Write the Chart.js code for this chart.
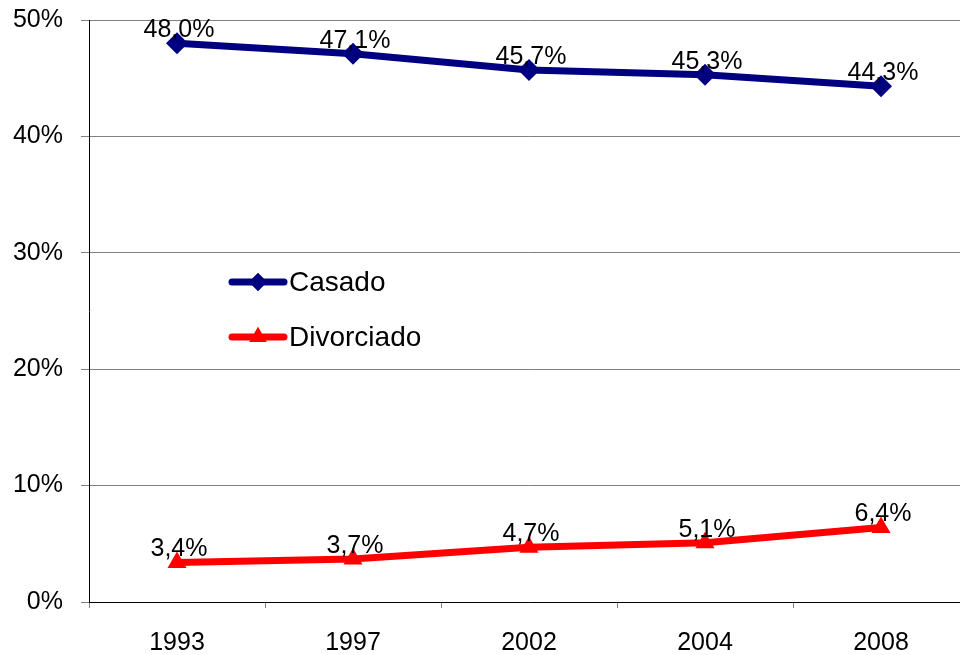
<!DOCTYPE html>
<html><head><meta charset="utf-8">
<script src="https://cdn.jsdelivr.net/npm/chart.js@4/dist/chart.umd.min.js"></script>
<style>
html,body{margin:0;padding:0;overflow:hidden;background:#fff;}
#wrap{width:980px;height:655px;position:relative;}
</style></head><body>
<div id="wrap"><canvas id="c"></canvas></div>
<script>
const years = ['1993','1997','2002','2004','2008'];
const casado = [48.0, 47.1, 45.7, 45.3, 44.3];
const divorciado = [3.4, 3.7, 4.7, 5.1, 6.4];
const seriesNames = ['Casado','Divorciado'];
const FONT = '"Liberation Sans", Arial, sans-serif';

const fmt = v => v.toFixed(1).replace('.', ',') + '%';

const labelPlugin = {
  id: 'labels',
  afterDatasetsDraw(chart) {
    const ctx = chart.ctx;
    ctx.save();
    ctx.font = '25px ' + FONT;
    ctx.fillStyle = '#000';
    ctx.textAlign = 'center';
    ctx.textBaseline = 'middle';
    chart.data.datasets.forEach((ds, i) => {
      chart.getDatasetMeta(i).data.forEach((pt, j) => {
        ctx.fillText(fmt(ds.data[j]), pt.x + 2, pt.y - 13);
      });
    });
    // legend
    const items = [
      {name: seriesNames[0], color: '#000080', style: 'rectRot', r: 9, y: 282},
      {name: seriesNames[1], color: '#FF0000', style: 'triangle', r: 10, y: 337}
    ];
    ctx.font = '28px ' + FONT;
    items.forEach(it => {
      ctx.strokeStyle = it.color;
      ctx.lineWidth = 7;
      ctx.lineCap = 'round';
      ctx.beginPath(); ctx.moveTo(232, it.y); ctx.lineTo(284, it.y); ctx.stroke();
      ctx.fillStyle = it.color;
      Chart.helpers.drawPoint(ctx, {pointStyle: it.style, radius: it.r, borderWidth: 0}, 258, it.y);
      ctx.fill();
      ctx.fillStyle = '#000';
      ctx.textAlign = 'left';
      ctx.fillText(it.name, 289, it.y + 1);
    });
    ctx.restore();
  }
};

new Chart(document.getElementById('c'), {
  type: 'line',
  data: {
    labels: years,
    datasets: [
      {label: seriesNames[0], data: casado, borderColor: '#000080', backgroundColor: '#000080',
       borderWidth: 7, pointStyle: 'rectRot', pointRadius: 11, pointHoverRadius: 11, pointBorderWidth: 0, tension: 0},
      {label: seriesNames[1], data: divorciado, borderColor: '#FF0000', backgroundColor: '#FF0000',
       borderWidth: 7, pointStyle: 'triangle', pointRadius: 11, pointHoverRadius: 11, pointBorderWidth: 0, tension: 0}
    ]
  },
  options: {
    responsive: true, maintainAspectRatio: false, animation: false,
    layout: {padding: {top: 20, right: 10, left: 0, bottom: 0}},
    plugins: {legend: {display: false}, tooltip: {enabled: false}},
    scales: {
      x: {
        offset: true,
        grid: {offset: true, drawOnChartArea: false, color: '#808080', tickLength: 6, tickWidth: 1},
        border: {color: '#000', width: 1},
        ticks: {font: {size: 25, family: FONT}, color: '#000', padding: 20, maxRotation: 0},
        afterFit(s) { s.height = 53; s.paddingLeft = 0; s.paddingRight = 0; }
      },
      y: {
        min: 0, max: 50,
        grid: {color: '#808080', lineWidth: 1, tickLength: 8},
        border: {color: '#000', width: 1},
        ticks: {stepSize: 10, font: {size: 25, family: FONT}, color: '#000', padding: 18,
                callback: v => v + '%'},
        afterFit(s) { s.width = 89; s.paddingTop = 0; s.paddingBottom = 0; }
      }
    }
  },
  plugins: [labelPlugin]
});
</script>
</body></html>
